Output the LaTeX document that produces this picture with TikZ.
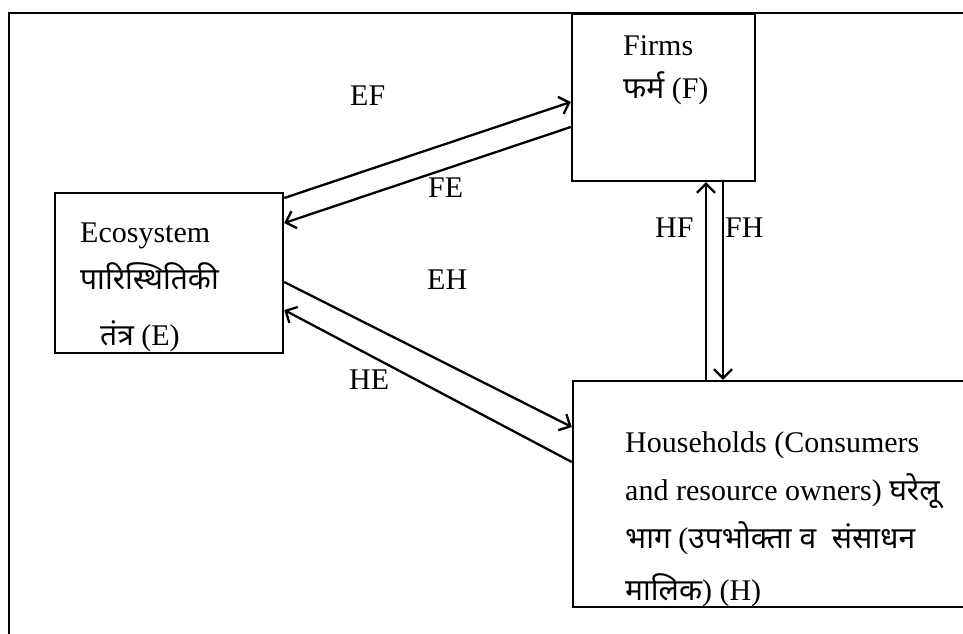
\documentclass[tikz,border=0pt]{standalone}
\usepackage{fontspec}
\setmainfont{Liberation Serif}
\newfontfamily\dev[Script=Devanagari]{Noto Sans}
\usetikzlibrary{arrows.meta}
\begin{document}
\begin{tikzpicture}[x=1pt,y=-1pt,
  boxst/.style={draw,line width=2.4pt,rectangle,inner sep=0pt},
  txt/.style={inner sep=0pt,anchor=base west,font=\fontsize{30}{36}\selectfont},
  arr/.style={line width=2.3pt,-{Straight Barb[length=9pt,width=18pt,line width=2.3pt]}},
  framest/.style={line width=2.8pt}]
\useasboundingbox (0,0) rectangle (963,633);
\fill[white] (0,0) rectangle (963,633);
% frame
\coordinate (fl) at (9,640);
\coordinate (ft) at (9,13);
\coordinate (fr) at (970,13);
\draw[framest] (fl) -- (ft) -- (fr);
% boxes
\node[boxst,minimum width=183pt,minimum height=167pt] (F) at (663.5,97.5) {};
\node[boxst,minimum width=228pt,minimum height=160pt] (E) at (169,273) {};
\node[boxst,minimum width=410pt,minimum height=226pt] (H) at (778,494) {};
% texts
\node[txt] (t1) at (623,55) {Firms};
\node[txt] (t2) at (623,98) {{\dev फर्म} (F)};
\node[txt] (t3) at (80,242) {Ecosystem};
\node[txt] (t4) at (80,289) {\dev पारिस्थितिकी};
\node[txt] (t5) at (100,345) {{\dev तंत्र} (E)};
\node[txt] (t6) at (625,452) {Households (Consumers};
\node[txt] (t7) at (625,500) {and resource owners) {\dev घरेलू}};
\node[txt] (t8) at (625,548) {{\dev भाग} ({\dev उपभोक्ता व\ \ संसाधन}};
\node[txt] (t9) at (625,600) {{\dev मालिक}) (H)};
% labels
\node[txt] (lEF) at (350,105) {EF};
\node[txt] (lFE) at (428,197) {FE};
\node[txt] (lEH) at (427,289) {EH};
\node[txt] (lHE) at (349,389) {HE};
\node[txt] (lHF) at (655,237) {HF};
\node[txt] (lFH) at (725,237) {FH};
% connectors
\draw[arr] ([yshift=75pt]E.east) -- ([yshift=-4.5pt]F.west);
\draw[arr] ([yshift=-29.5pt]F.west) -- ([yshift=50pt]E.east);
\draw[arr] ([yshift=-9pt]E.east) -- ([yshift=67pt]H.west);
\draw[arr] ([yshift=32pt]H.west) -- ([yshift=-37pt]E.east);
\coordinate (hf) at ([xshift=42.5pt]F.south);
\coordinate (fh) at ([xshift=59.5pt]F.south);
\draw[arr] (hf |- H.north) -- (hf);
\draw[arr] (fh) -- (fh |- H.north);
\end{tikzpicture}
\end{document}
